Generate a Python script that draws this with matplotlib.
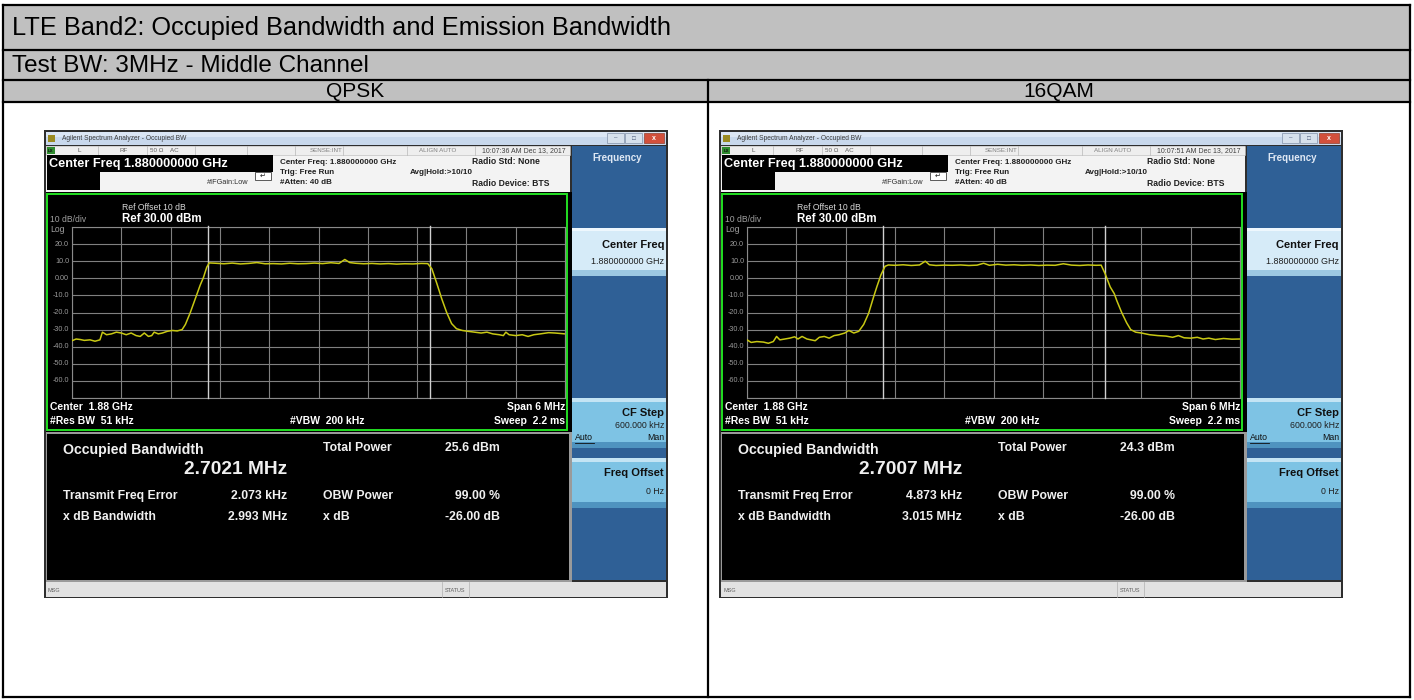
import matplotlib
matplotlib.use("Agg")
import matplotlib.pyplot as plt
from matplotlib.patches import Rectangle
import numpy as np

# ---------------- data ----------------
table_title = "LTE Band2: Occupied Bandwidth and Emission Bandwidth"
table_subtitle = "Test BW: 3MHz - Middle Channel"
modulations = ["QPSK", "16QAM"]
timestamps = ["10:07:36 AM Dec 13, 2017", "10:07:51 AM Dec 13, 2017"]
obw_mhz = [2.7021, 2.7007]
total_power_dbm = [25.6, 24.3]
freq_error_khz = [2.073, 4.873]
xdb_bw_mhz = [2.993, 3.015]
obw_power_pct = [99.00, 99.00]
x_db = [-26.00, -26.00]
center_ghz = 1.88
span_mhz = 6
ref_level_dbm = 30
db_per_div = 10
y_tick_labels = ["20.0", "10.0", "0.00", "-10.0", "-20.0", "-30.0", "-40.0", "-50.0", "-60.0"]

qpsk_freq_mhz = [-3.00, -2.95, -2.90, -2.85, -2.78, -2.72, -2.66, -2.63, -2.58, -2.52,
                 -2.46, -2.40, -2.34, -2.28, -2.22, -2.17, -2.12, -2.07, -2.03, -2.00,
                 -1.95, -1.90, -1.84, -1.78, -1.72, -1.66, -1.62, -1.56, -1.50, -1.44,
                 -1.40, -1.36, -1.33, -1.25, -1.15, -1.05, -0.95, -0.85, -0.75, -0.65,
                 -0.55, -0.45, -0.35, -0.25, -0.15, -0.05, 0.05, 0.15, 0.25, 0.32,
                 0.38, 0.45, 0.55, 0.65, 0.75, 0.85, 0.95, 1.05, 1.15, 1.25,
                 1.33, 1.38, 1.44, 1.50, 1.56, 1.62, 1.68, 1.75, 1.82, 1.90,
                 1.98, 2.05, 2.12, 2.20, 2.25, 2.28, 2.32, 2.40, 2.48, 2.55,
                 2.62, 2.70, 2.80, 2.88, 2.95, 3.00]
qpsk_level_dbm = [-36.5, -35.5, -35.8, -36.3, -36.0, -36.8, -36.0, -31.5, -33.0, -32.5,
                  -31.5, -32.0, -33.0, -32.0, -33.5, -34.0, -32.0, -34.0, -33.5, -31.5,
                  -32.5, -32.0, -31.0, -30.5, -30.8, -30.0, -27.0, -20.0, -12.0, -4.0,
                  0.5, 6.5, 9.0, 8.8, 8.5, 8.9, 8.4, 8.7, 9.2, 8.5,
                  8.6, 8.4, 8.8, 8.5, 8.6, 8.9, 8.6, 9.1, 8.7, 11.0,
                  9.2, 8.8, 8.5, 8.7, 8.4, 8.6, 8.3, 8.5, 8.4, 8.7,
                  8.6, 5.5, -3.0, -12.0, -20.0, -26.5, -29.5, -30.5, -31.0, -31.5,
                  -32.0, -31.5, -32.5, -33.0, -33.5, -31.5, -33.0, -33.5, -33.0, -34.0,
                  -33.0, -32.5, -31.8, -32.0, -32.3, -32.5]

qam16_freq_mhz = [-3.00, -2.95, -2.88, -2.80, -2.74, -2.68, -2.64, -2.60, -2.54, -2.48,
                  -2.42, -2.38, -2.33, -2.27, -2.22, -2.17, -2.12, -2.06, -2.00, -1.94,
                  -1.88, -1.81, -1.76, -1.70, -1.64, -1.58, -1.52, -1.46, -1.42, -1.37,
                  -1.32, -1.28, -1.20, -1.10, -1.00, -0.90, -0.83, -0.78, -0.70, -0.60,
                  -0.50, -0.40, -0.30, -0.20, -0.12, -0.05, 0.05, 0.15, 0.25, 0.35,
                  0.45, 0.55, 0.65, 0.75, 0.85, 0.95, 1.05, 1.15, 1.25, 1.31,
                  1.36, 1.42, 1.47, 1.50, 1.56, 1.62, 1.67, 1.73, 1.80, 1.90,
                  2.00, 2.10, 2.18, 2.25, 2.32, 2.40, 2.48, 2.55, 2.62, 2.70,
                  2.80, 2.90, 3.00]
qam16_level_dbm = [-36.0, -37.5, -37.0, -37.3, -38.0, -37.0, -34.0, -36.0, -35.5, -35.0,
                   -34.2, -35.5, -34.0, -35.5, -36.0, -36.5, -34.5, -34.0, -35.0, -33.5,
                   -33.0, -32.0, -30.5, -32.0, -31.0, -27.0, -20.5, -11.0, -5.0, 2.0,
                   7.0, 7.8, 7.6, 7.9, 7.5, 7.8, 10.0, 7.9, 7.5, 7.7,
                   7.6, 7.8, 7.5, 7.7, 8.8, 7.6, 8.2, 7.7, 7.9, 7.6,
                   7.8, 7.5, 7.7, 7.6, 8.5, 7.7, 7.5, 7.8, 7.6, 7.7,
                   2.5, -5.0, -9.0, -13.0, -20.0, -26.0, -30.0, -31.5, -32.0, -33.0,
                   -33.5, -33.8, -34.5, -33.5, -34.8, -35.0, -34.5, -35.5, -35.0, -35.8,
                   -35.2, -35.6, -35.5]

traces_freq = [qpsk_freq_mhz, qam16_freq_mhz]
traces_level = [qpsk_level_dbm, qam16_level_dbm]

# ---------------- figure ----------------
plt.rcParams["font.family"] = ["Liberation Sans", "DejaVu Sans"]
W, H = 1414, 700
fig = plt.figure(figsize=(W / 100, H / 100), dpi=100)
bg = fig.add_axes([0, 0, 1, 1])
bg.set_xlim(0, W)
bg.set_ylim(H, 0)
bg.axis("off")


def rect(x, y, w, h, fc, ec="none", lw=0.0, z=1):
    bg.add_patch(Rectangle((x, y), w, h, facecolor=fc, edgecolor=ec, linewidth=lw, zorder=z))


def txt(x, y, s, size, color="black", weight="normal", ha="left", va="center", z=5):
    bg.text(x, y, s, fontsize=size, color=color, fontweight=weight, ha=ha, va=va, zorder=z)


# ---------------- table ----------------
L, R, T, B = 3, 1410, 5, 697
MID = 708
rect(L, T, R - L, 45, "#c0c0c0")
rect(L, 50, R - L, 30, "#c0c0c0")
rect(L, 80, R - L, 22, "#c0c0c0")
rect(L, 102, R - L, B - 102, "white")
lw_t = 1.6
for yy in (T, 50, 80, 102, B):
    bg.plot([L, R], [yy, yy], color="black", lw=lw_t, zorder=3, solid_capstyle="projecting")
for xx in (L, R):
    bg.plot([xx, xx], [T, B], color="black", lw=lw_t, zorder=3, solid_capstyle="projecting")
bg.plot([MID, MID], [80, B], color="black", lw=lw_t, zorder=3)

txt(12, 28, table_title, 18.3)
txt(12, 65.5, table_subtitle, 17.5)
txt((L + MID) / 2, 91.5, modulations[0], 15, ha="center")
txt((MID + R) / 2, 91.5, modulations[1], 15, ha="center")


# ---------------- screenshots ----------------
def screen(x0, i):
    # outer window frame
    rect(x0, 130, 624, 468, "#2e2e2e", z=1)
    # title bar
    rect(x0 + 2, 132, 620, 13, "#c8d8ec", z=2)
    rect(x0 + 2, 132, 620, 5, "#dbe6f4", z=2)
    rect(x0 + 4, 135, 7, 7, "#9a8a20", z=3)
    txt(x0 + 18, 139, "Agilent Spectrum Analyzer - Occupied BW", 4.8, "#3a3a3a")
    rect(x0 + 563, 133, 17, 10, "#d6e0ec", ec="#8090a8", lw=0.5, z=3)
    rect(x0 + 581, 133, 17, 10, "#d6e0ec", ec="#8090a8", lw=0.5, z=3)
    rect(x0 + 600, 133, 20, 10, "#d2503c", ec="#904030", lw=0.5, z=3)
    txt(x0 + 571.5, 138, "\u2013", 4.5, "#405070", ha="center")
    txt(x0 + 589.5, 138, "\u25a1", 4.5, "#405070", ha="center")
    txt(x0 + 610, 138, "x", 5, "white", weight="bold", ha="center")
    # info area
    rect(x0 + 2, 146, 524, 48, "#f3f3f3", z=2)
    # status row
    rect(x0 + 2, 146, 524, 9, "#eeeeee", ec="#b8b8b8", lw=0.4, z=2)
    for cx in (54, 103, 151, 203, 251, 299, 363, 431):
        bg.plot([x0 + cx, x0 + cx], [146, 155], color="#b8b8b8", lw=0.5, zorder=3)
    rect(x0 + 3, 147, 8, 7, "#2e8b2e", z=3)
    txt(x0 + 7, 150.5, "LX", 3.2, "#101010", ha="center", weight="bold")
    txt(x0 + 33, 150.5, "L", 4.5, "#505050")
    txt(x0 + 76, 150.5, "RF", 4.5, "#606060")
    txt(x0 + 106, 150.5, "50 \u03a9    AC", 4.5, "#606060")
    txt(x0 + 282, 150.5, "SENSE:INT", 4.5, "#808080", ha="center")
    txt(x0 + 394, 150.5, "ALIGN AUTO", 4.5, "#808080", ha="center")
    txt(x0 + 480, 150.5, timestamps[i], 5.0, "#404040", ha="center")
    # center freq box
    rect(x0 + 3, 155, 226, 17, "black", z=3)
    txt(x0 + 5, 164, "Center Freq %.9f GHz" % center_ghz, 9.2, "white", weight="bold", z=4)
    rect(x0 + 3, 172, 53, 18, "black", z=3)
    rect(x0 + 211, 172, 16, 8, "white", ec="#404040", lw=0.6, z=3)
    txt(x0 + 219, 176, "\u21b5", 5, "#202020", ha="center", z=4)
    txt(x0 + 163, 183, "#IFGain:Low", 5.3, "#303030")
    txt(x0 + 236, 163, "Center Freq: %.9f GHz" % center_ghz, 5.8, "#202020", weight="bold")
    txt(x0 + 236, 173, "Trig: Free Run", 5.8, "#202020", weight="bold")
    txt(x0 + 236, 183, "#Atten: 40 dB", 5.8, "#202020", weight="bold")
    txt(x0 + 366, 173, "Avg|Hold:>10/10", 5.8, "#202020", weight="bold")
    txt(x0 + 428, 162, "Radio Std: None", 6.2, "#202020", weight="bold")
    txt(x0 + 428, 183, "Radio Device: BTS", 6.2, "#202020", weight="bold")

    # graph area
    rect(x0 + 2, 192, 526, 240, "black", z=2)
    rect(x0 + 3, 194, 520, 236, "black", ec="#22e022", lw=1.4, z=3)
    txt(x0 + 78, 208, "Ref Offset 10 dB", 6.2, "#d8d8d8", z=4)
    txt(x0 + 78, 219.5, "Ref %.2f dBm" % ref_level_dbm, 8.3, "white", weight="bold", z=4)
    txt(x0 + 6, 220, "%d dB/div" % db_per_div, 6.2, "#a0a0a0", z=4)
    txt(x0 + 6, 229, "Log", 6.2, "#a0a0a0", z=4)
    txt(x0 + 6, 407, "Center  %.2f GHz" % center_ghz, 7.5, "white", weight="bold", z=4)
    txt(x0 + 6, 421.5, "#Res BW  51 kHz", 7.5, "white", weight="bold", z=4)
    txt(x0 + 246, 421.5, "#VBW  200 kHz", 7.5, "white", weight="bold", z=4)
    txt(x0 + 521, 407, "Span %d MHz" % span_mhz, 7.5, "white", weight="bold", ha="right", z=4)
    txt(x0 + 521, 421.5, "Sweep  2.2 ms", 7.5, "white", weight="bold", ha="right", z=4)

    # results area
    rect(x0 + 2, 432, 526, 150, "#9a9a9a", z=2)
    rect(x0 + 3, 434, 522, 146, "black", z=3)
    wc = "#f0f0f0"
    txt(x0 + 19, 450, "Occupied Bandwidth", 10.2, wc, weight="bold", z=4)
    txt(x0 + 243, 469, "%.4f MHz" % obw_mhz[i], 13.8, wc, weight="bold", ha="right", z=4)
    txt(x0 + 19, 496, "Transmit Freq Error", 8.8, wc, weight="bold", z=4)
    txt(x0 + 243, 496, "%.3f kHz" % freq_error_khz[i], 8.8, wc, weight="bold", ha="right", z=4)
    txt(x0 + 19, 517, "x dB Bandwidth", 8.8, wc, weight="bold", z=4)
    txt(x0 + 243, 517, "%.3f MHz" % xdb_bw_mhz[i], 8.8, wc, weight="bold", ha="right", z=4)
    txt(x0 + 279, 448, "Total Power", 8.8, wc, weight="bold", z=4)
    txt(x0 + 456, 448, "%.1f dBm" % total_power_dbm[i], 8.8, wc, weight="bold", ha="right", z=4)
    txt(x0 + 279, 496, "OBW Power", 8.8, wc, weight="bold", z=4)
    txt(x0 + 456, 496, "%.2f %%" % obw_power_pct[i], 8.8, wc, weight="bold", ha="right", z=4)
    txt(x0 + 279, 517, "x dB", 8.8, wc, weight="bold", z=4)
    txt(x0 + 456, 517, "%.2f dB" % x_db[i], 8.8, wc, weight="bold", ha="right", z=4)

    # softkey panel
    rect(x0 + 528, 146, 94, 434, "#2f6096", z=2)
    txt(x0 + 573, 158, "Frequency", 7.0, "#dfe8f4", weight="bold", ha="center")
    rect(x0 + 528, 228, 94, 48, "#d6ebf8", z=3)
    rect(x0 + 528, 228, 94, 3, "#eef7fd", z=3)
    rect(x0 + 528, 270, 94, 6, "#9cc8e2", z=3)
    txt(x0 + 620, 245, "Center Freq", 8.0, "#101010", weight="bold", ha="right")
    txt(x0 + 620, 261.5, "%.9f GHz" % center_ghz, 6.5, "#202020", ha="right")
    for ky, lines, dy in ((398, ("CF Step", "600.000 kHz"), 28), (458, ("Freq Offset", "0 Hz"), 33)):
        rect(x0 + 528, ky, 94, 50, "#7ec3e4", z=3)
        rect(x0 + 528, ky, 94, 4, "#c4e4f4", z=3)
        rect(x0 + 528, ky + 44, 94, 6, "#4f93bf", z=3)
        txt(x0 + 620, ky + 15, lines[0], 8.0, "#101010", weight="bold", ha="right")
        txt(x0 + 620, ky + dy, lines[1], 6.3, "#202020", ha="right")
    txt(x0 + 531, 438, "Auto", 6.3, "#101010")
    bg.plot([x0 + 531, x0 + 550], [442.5, 442.5], color="#101010", lw=0.6, zorder=5)
    txt(x0 + 620, 438, "Man", 6.3, "#101010", ha="right")

    # status bar
    rect(x0 + 2, 582, 620, 15, "#e2e2e2", z=2)
    for cx in (398, 425):
        bg.plot([x0 + cx, x0 + cx], [582, 597], color="#b0b0b0", lw=0.5, zorder=3)
    txt(x0 + 4, 590, "MSG", 4.0, "#606060")
    txt(x0 + 411.5, 590, "STATUS", 4.0, "#606060", ha="center")

    # spectrum plot (grid region)
    gx, gy, gw, gh = x0 + 28, 227, 493, 171
    sax = fig.add_axes([gx / W, 1 - (gy + gh) / H, gw / W, gh / H])
    sax.set_facecolor("black")
    sax.set_xlim(-span_mhz / 2, span_mhz / 2)
    sax.set_ylim(ref_level_dbm - 10 * db_per_div, ref_level_dbm)
    sax.set_xticks(np.linspace(-span_mhz / 2, span_mhz / 2, 11))
    sax.set_yticks(np.arange(ref_level_dbm - 10 * db_per_div, ref_level_dbm + 1, db_per_div))
    sax.grid(True, color="#808080", lw=0.8)
    sax.tick_params(length=0, labelbottom=False, labelleft=False)
    for sp in sax.spines.values():
        sp.set_color("#8a8a8a")
        sp.set_linewidth(0.8)
    for k, lab in enumerate(y_tick_labels):
        val = ref_level_dbm - db_per_div * (k + 1)
        sax.text(-0.006, val, lab, transform=sax.get_yaxis_transform(), ha="right", va="center",
                 fontsize=5.2, color="#9a9a9a")
    off = freq_error_khz[i] / 1000.0
    for edge in (off - obw_mhz[i] / 2, off + obw_mhz[i] / 2):
        sax.plot([edge, edge], [ref_level_dbm - 10 * db_per_div, ref_level_dbm + 0.6],
                 color="#d0d0d0", lw=1.0, clip_on=False, zorder=3)
    sax.plot(traces_freq[i], traces_level[i], color="#c8c814", lw=1.1, zorder=4)


screen(44, 0)
screen(719, 1)

fig.savefig("out.png", dpi=100)
